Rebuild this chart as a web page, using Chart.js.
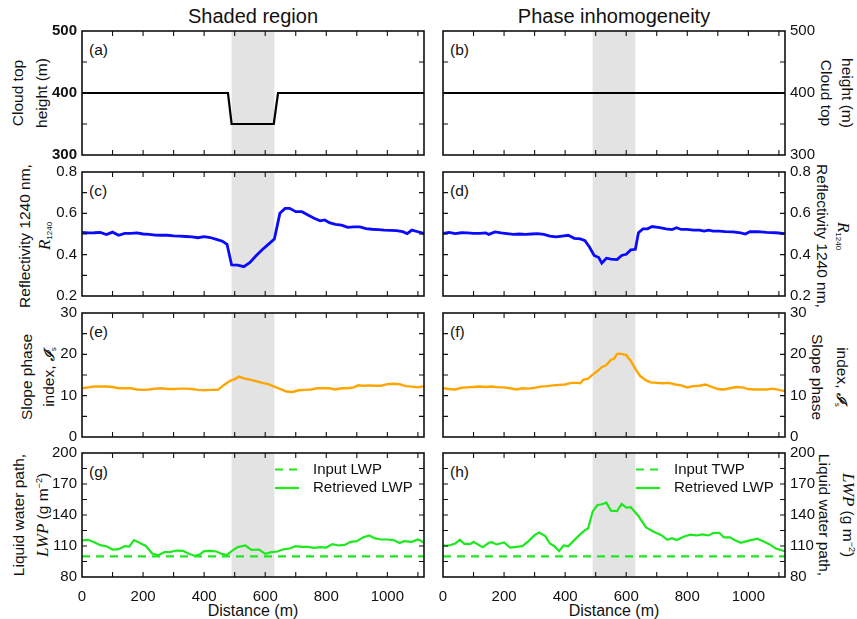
<!DOCTYPE html>
<html lang="en">
<head>
<meta charset="UTF-8">
<title>Cloud top height, reflectivity, phase index and LWP</title>
<script src="https://cdn.jsdelivr.net/npm/chart.js"></script>
<style>
  body { margin: 0; background: #fff; width: 857px; height: 619px; position: relative; overflow: hidden;
         font-family: "Liberation Sans", Arial, Helvetica, sans-serif; color: #111; }
  canvas { position: absolute; }
  .txt { position: absolute; white-space: nowrap; line-height: 1; }
  .ctr { transform: translate(-50%, -50%); }
  .lab { font-size: 15.5px; transform: translateY(-50%); }
  .yl  { font-size: 15.5px; transform: translate(-50%, -50%) rotate(-90deg); }
  .yr  { font-size: 15.5px; transform: translate(-50%, -50%) rotate(90deg); }
  .m   { font-family: "Liberation Serif", "Times New Roman", serif; font-style: italic; font-size: 17px; }
  .sc  { font-family: "DejaVu Serif", serif; font-style: italic; font-weight: bold; font-size: 14px; }
  sub  { font-size: 8px; vertical-align: -2px; }
  sup  { font-size: 9px; vertical-align: 6px; }
</style>
</head>
<body>

<div class="txt ctr" style="left:253px; top:16px; font-size:20px">Shaded region</div>
<div class="txt ctr" style="left:614px; top:16px; font-size:20px">Phase inhomogeneity</div>
<div class="txt ctr" style="left:253px; top:611px; font-size:16px">Distance (m)</div>
<div class="txt ctr" style="left:614px; top:611px; font-size:16px">Distance (m)</div>

<div class="txt lab" style="left:89px; top:50px">(a)</div>
<div class="txt lab" style="left:450px; top:50px">(b)</div>
<div class="txt lab" style="left:89px; top:191px">(c)</div>
<div class="txt lab" style="left:450px; top:191px">(d)</div>
<div class="txt lab" style="left:89px; top:332px">(e)</div>
<div class="txt lab" style="left:450px; top:332px">(f)</div>
<div class="txt lab" style="left:89px; top:472px">(g)</div>
<div class="txt lab" style="left:450px; top:472px">(h)</div>

<!-- left axis titles -->
<div class="txt yl" style="left:18px; top:93px">Cloud top</div>
<div class="txt yl" style="left:42px; top:93px">height (m)</div>
<div class="txt yl" style="left:25px; top:236px">Reflectivity 1240 nm,</div>
<div class="txt yl" style="left:45px; top:236px"><span class="m">R</span><sub>1240</sub></div>
<div class="txt yl" style="left:27px; top:377px">Slope phase</div>
<div class="txt yl" style="left:49px; top:377px">index, <span class="sc">ℐ</span><sub>s</sub></div>
<div class="txt yl" style="left:19px; top:515px">Liquid water path,</div>
<div class="txt yl" style="left:42px; top:515px"><span class="m">LWP</span> (g m<sup>−2</sup>)</div>

<!-- right axis titles -->
<div class="txt yr" style="left:826px; top:93px">Cloud top</div>
<div class="txt yr" style="left:847px; top:93px">height (m)</div>
<div class="txt yr" style="left:822px; top:236px">Reflectivity 1240 nm,</div>
<div class="txt yr" style="left:843px; top:236px"><span class="m">R</span><sub>1240</sub></div>
<div class="txt yr" style="left:817px; top:377px">Slope phase</div>
<div class="txt yr" style="left:841px; top:377px">index, <span class="sc">ℐ</span><sub>s</sub></div>
<div class="txt yr" style="left:824px; top:515px">Liquid water path,</div>
<div class="txt yr" style="left:848px; top:515px"><span class="m">LWP</span> (g m<sup>−2</sup>)</div>

<script>
// along-track distance (m) and shaded interval
const xMax = 1120;
const shadeStart = 490, shadeEnd = 630;

// cloud top height (m)
const cthDistA = [0, 478, 490, 628, 642, 1120];
const cthA = [400, 400, 350, 350, 400, 400];
const cthDistB = [0, 1120];
const cthB = [400, 400];

// reflectivity at 1240 nm
const reflDistC = [0, 20, 40, 60, 80, 100, 120, 140, 160, 180, 200, 220, 240, 260, 280, 300, 320, 340, 360, 380, 400, 420, 440, 460,
  475, 490, 510, 530, 550, 570, 590, 610, 630,
  648, 665, 680, 700, 720, 740, 760, 780, 795, 810, 830, 850, 870, 890, 910, 930, 950, 970, 990, 1010, 1030, 1050, 1065, 1080, 1100, 1120];
const reflC = [0.508, 0.505, 0.506, 0.508, 0.497, 0.509, 0.494, 0.503, 0.503, 0.505, 0.500, 0.498, 0.495, 0.494, 0.494, 0.491, 0.490, 0.488, 0.486, 0.482, 0.487, 0.483, 0.474, 0.465,
  0.450, 0.350, 0.349, 0.342, 0.362, 0.395, 0.424, 0.450, 0.476,
  0.600, 0.624, 0.624, 0.608, 0.608, 0.592, 0.576, 0.564, 0.568, 0.555, 0.547, 0.543, 0.532, 0.534, 0.534, 0.526, 0.523, 0.521, 0.519, 0.518, 0.516, 0.511, 0.502, 0.519, 0.511, 0.502];

const reflDistD = [0, 20, 40, 60, 80, 100, 120, 140,
  150, 170, 190, 210, 230, 250, 270, 290, 310, 330, 350, 370, 390, 410, 430, 450,
  465, 480, 495, 510, 520, 535, 550, 570, 585, 600, 615, 630,
  640, 655, 670, 685, 710, 730, 750, 765, 780, 800, 820, 840, 855, 870, 885, 905, 925, 950, 975, 990, 1005, 1030, 1060, 1090, 1120];
const reflD = [0.503, 0.508, 0.502, 0.506, 0.505, 0.503, 0.503, 0.505,
  0.498, 0.510, 0.505, 0.502, 0.498, 0.500, 0.498, 0.500, 0.502, 0.498, 0.490, 0.486, 0.490, 0.494, 0.479, 0.476,
  0.468, 0.436, 0.396, 0.386, 0.359, 0.383, 0.378, 0.376, 0.396, 0.402, 0.423, 0.426,
  0.506, 0.525, 0.525, 0.536, 0.531, 0.525, 0.521, 0.530, 0.522, 0.522, 0.519, 0.519, 0.514, 0.519, 0.514, 0.514, 0.511, 0.510, 0.505, 0.500, 0.511, 0.511, 0.508, 0.506, 0.502];

// slope phase index
const spiDistE = [0, 20, 40, 60, 80, 100, 120, 140, 160, 180, 200, 220, 240, 260, 280, 300, 320, 340, 360, 380, 400, 420,
  445, 465, 485, 500, 515, 530, 550, 570, 590, 610, 630, 650, 670, 690, 710, 730, 750, 770, 790, 810, 830, 850, 870, 890,
  905, 920, 940, 960, 980, 1000, 1020, 1040, 1060, 1080, 1100, 1120];
const spiE = [11.8, 12.0, 12.2, 12.2, 12.2, 12.1, 11.8, 11.8, 11.8, 11.5, 11.4, 11.5, 11.7, 11.8, 11.6, 11.6, 11.7, 11.7, 11.6, 11.4, 11.3, 11.4,
  11.4, 12.6, 13.6, 14.0, 14.6, 14.2, 13.9, 13.5, 13.1, 12.8, 12.2, 11.6, 11.0, 10.9, 11.3, 11.4, 11.5, 11.8, 11.8, 11.8, 11.5, 11.8, 11.8, 12.0,
  12.5, 12.4, 12.5, 12.4, 12.4, 12.8, 12.9, 12.8, 12.3, 12.2, 12.0, 12.3];

const spiDistF = [0, 20, 40, 60, 80, 100, 120, 140, 160, 180, 200, 220, 240, 260, 280, 300, 320, 340, 360, 380, 400, 420, 440,
  450, 460, 475, 490, 505, 520, 535, 550, 560, 570, 585, 600, 615, 630, 645, 665, 680,
  700, 720, 740, 760, 780, 800, 820, 840, 860, 880, 900, 920, 940, 960, 980, 1000, 1020, 1040, 1060, 1080, 1100, 1120];
const spiF = [11.8, 11.6, 11.5, 11.9, 12.0, 12.1, 12.2, 12.1, 12.2, 12.0, 12.0, 11.8, 11.5, 11.8, 11.7, 11.9, 12.2, 12.3, 12.5, 12.6, 12.7, 13.1, 13.1,
  13.0, 13.9, 14.1, 15.1, 15.9, 16.9, 17.4, 18.7, 18.9, 20.1, 20.1, 19.8, 18.4, 16.5, 14.8, 13.7, 13.2,
  13.1, 13.0, 13.1, 12.7, 12.5, 12.0, 12.3, 12.4, 12.7, 12.1, 11.6, 11.5, 11.8, 12.1, 12.0, 11.6, 11.5, 11.5, 11.5, 11.7, 11.4, 11.1];

// liquid water path (g m-2)
const inputDist = [0, 1120];
const inputLWP = [100, 100];

const lwpDistG = [0, 20, 40, 60, 80, 100, 120, 140, 155, 170, 190, 210, 230, 250, 270, 290, 310, 330, 350, 370, 385, 400, 420, 440, 460, 475,
  490, 510, 535, 555, 580, 600, 620, 640, 660, 680, 700, 720, 740, 760, 780, 800, 820, 840, 860, 880, 900, 920, 940, 960, 980, 1000,
  1020, 1040, 1055, 1080, 1100, 1110, 1120];
const lwpG = [115.4, 116.0, 113.7, 110.8, 109.8, 106.6, 106.9, 109.8, 109.5, 115.7, 112.8, 109.8, 102.7, 101.1, 104.0, 104.3, 105.6, 105.3, 102.4, 100.4, 101.7, 105.0, 105.3, 104.7, 102.1, 101.4,
  105.0, 108.9, 110.5, 106.3, 106.6, 102.4, 104.0, 104.7, 106.9, 107.6, 109.8, 109.2, 109.2, 108.2, 108.9, 108.5, 111.8, 110.5, 111.1, 114.0, 114.7, 118.3, 120.2, 117.3, 116.3, 116.3,
  115.7, 112.8, 114.7, 114.0, 116.3, 115.0, 113.1];

const lwpDistH = [0, 20, 40, 55, 70, 90, 100, 120, 130, 150, 160, 175, 200, 220, 240, 260, 280, 300, 315, 335, 350, 365, 380, 395, 410, 430,
  450, 465, 475, 490, 505, 520, 535, 550, 570, 585, 600, 615, 640, 665, 690, 715, 735, 750, 765, 790, 810, 830, 850, 870,
  885, 905, 920, 940, 955, 975, 995, 1030, 1050, 1070, 1090, 1105, 1120];
const lwpH = [110.5, 110.5, 112.4, 116.0, 112.1, 112.1, 114.0, 110.5, 108.9, 113.1, 113.7, 111.5, 113.4, 108.5, 109.2, 109.8, 114.7, 120.5, 123.1, 119.6, 112.4, 109.8, 105.0, 110.5, 109.8, 115.7,
  121.5, 125.4, 127.0, 143.2, 149.4, 150.4, 152.0, 144.2, 143.8, 150.7, 147.1, 147.5, 139.0, 128.0, 123.8, 120.5, 116.0, 117.6, 115.7, 119.2, 120.9, 120.2, 121.2, 120.2,
  122.5, 122.8, 118.3, 118.3, 115.7, 113.1, 114.7, 117.0, 114.4, 111.5, 107.6, 106.3, 104.7];

// layout of the 2 x 4 grid of plot boxes
const PAD = 10, YW = 60, XH = 30, PW = 342, PH = 124;
const colLeft = [82, 443];
const rowTop = [31, 172, 313, 453];
const FONT = '"Liberation Sans", Arial, Helvetica, sans-serif';
const BLUE = '#0a0aff', ORANGE = '#ffa500', GREEN = '#1ee81e';

function series(dist, vals) {
  return dist.map((d, i) => ({ x: d, y: vals[i] }));
}
function line(dist, vals, color, width, extra) {
  return Object.assign({ data: series(dist, vals), borderColor: color, borderWidth: width,
    pointRadius: 0, tension: 0, fill: false }, extra || {});
}

// shading, inward ticks, frame and the in-plot legend
const boxPlugin = {
  id: 'box',
  beforeDatasetsDraw(chart) {
    const { ctx, chartArea: a, scales: { x } } = chart;
    const x0 = x.getPixelForValue(shadeStart), x1 = x.getPixelForValue(shadeEnd);
    ctx.save();
    ctx.fillStyle = '#e3e3e3';
    ctx.fillRect(x0, a.top, x1 - x0, a.height);
    ctx.restore();
  },
  afterDatasetsDraw(chart, args, o) {
    const { ctx, chartArea: a, scales: { x, y } } = chart;
    const T = 5;
    ctx.save();
    ctx.strokeStyle = '#111';
    ctx.lineWidth = 1.1;
    ctx.beginPath();
    const nx = Math.round((x.max - x.min) / o.xMinor);
    for (let i = 1; i <= nx; i++) {
      const px = x.getPixelForValue(x.min + i * o.xMinor);
      if (px >= a.right - 1) continue;
      ctx.moveTo(px, a.bottom); ctx.lineTo(px, a.bottom - T);
      ctx.moveTo(px, a.top); ctx.lineTo(px, a.top + T);
    }
    const ny = Math.round((y.max - y.min) / o.yMinor);
    for (let i = 1; i < ny; i++) {
      const py = y.getPixelForValue(y.min + i * o.yMinor);
      ctx.moveTo(a.left, py); ctx.lineTo(a.left + T, py);
      ctx.moveTo(a.right, py); ctx.lineTo(a.right - T, py);
    }
    ctx.stroke();
    ctx.lineWidth = 1.6;
    ctx.strokeRect(a.left, a.top, a.width, a.height);

    if (o.legend) {
      ctx.font = '15px ' + FONT;
      ctx.textBaseline = 'middle';
      chart.data.datasets.forEach((ds, i) => {
        const yy = a.top + 16.5 + i * 18.5;
        ctx.strokeStyle = ds.borderColor;
        ctx.lineWidth = ds.borderWidth;
        ctx.setLineDash(ds.borderDash || []);
        ctx.beginPath();
        ctx.moveTo(a.left + 193, yy);
        ctx.lineTo(a.left + 217, yy);
        ctx.stroke();
        ctx.setLineDash([]);
        ctx.fillStyle = '#111';
        ctx.fillText(ds.label, a.left + 231, yy);
      });
    }
    ctx.restore();
  }
};

const panels = [
  { col: 0, row: 0, y: [300, 500, 100, 50], bold: true,
    sets: [line(cthDistA, cthA, '#000', 2.2)] },
  { col: 1, row: 0, y: [300, 500, 100, 50],
    sets: [line(cthDistB, cthB, '#000', 2.2)] },
  { col: 0, row: 1, y: [0.2, 0.8, 0.2, 0.1],
    sets: [line(reflDistC, reflC, BLUE, 2.8)] },
  { col: 1, row: 1, y: [0.2, 0.8, 0.2, 0.1],
    sets: [line(reflDistD, reflD, BLUE, 2.8)] },
  { col: 0, row: 2, y: [0, 30, 10, 5],
    sets: [line(spiDistE, spiE, ORANGE, 2.4)] },
  { col: 1, row: 2, y: [0, 30, 10, 5],
    sets: [line(spiDistF, spiF, ORANGE, 2.4)] },
  { col: 0, row: 3, y: [80, 200, 30, 15], legend: true,
    sets: [line(inputDist, inputLWP, GREEN, 2.2, { label: 'Input LWP', borderDash: [8, 6] }),
           line(lwpDistG, lwpG, GREEN, 2.2, { label: 'Retrieved LWP' })] },
  { col: 1, row: 3, y: [80, 200, 30, 15], legend: true,
    sets: [line(inputDist, inputLWP, GREEN, 2.2, { label: 'Input TWP', borderDash: [8, 6] }),
           line(lwpDistH, lwpH, GREEN, 2.2, { label: 'Retrieved LWP' })] }
];

panels.forEach(p => {
  const canvas = document.createElement('canvas');
  canvas.width = PAD * 2 + YW + PW;
  canvas.height = PAD * 2 + PH + XH;
  document.body.appendChild(canvas);
  const showX = p.row === 3;
  const chart = new Chart(canvas, {
    type: 'line',
    data: { datasets: p.sets },
    options: {
      responsive: false,
      maintainAspectRatio: false,
      animation: false,
      layout: { padding: PAD },
      plugins: {
        legend: { display: false },
        tooltip: { enabled: false },
        box: { xMinor: 100, yMinor: p.y[3], legend: !!p.legend }
      },
      scales: {
        x: {
          type: 'linear', min: 0, max: xMax,
          grid: { display: false, drawTicks: false, tickLength: 0 }, border: { display: false },
          ticks: { display: showX, stepSize: 200, includeBounds: false, autoSkip: false, maxRotation: 0,
                   padding: 11, color: '#111', font: { family: FONT, size: 15 },
                   callback: v => String(v) },
          afterFit(s) { s.height = XH; s.paddingLeft = 0; s.paddingRight = 0; }
        },
        y: {
          position: p.col === 0 ? 'left' : 'right',
          min: p.y[0], max: p.y[1],
          grid: { display: false, drawTicks: false, tickLength: 0 }, border: { display: false },
          ticks: { stepSize: p.y[2], includeBounds: false, autoSkip: false, padding: 5, color: '#111',
                   font: { family: FONT, size: 15, weight: p.bold ? 'bold' : 'normal' } },
          afterFit(s) { s.width = YW; s.paddingTop = 0; s.paddingBottom = 0; }
        }
      }
    },
    plugins: [boxPlugin]
  });
  const a = chart.chartArea;
  canvas.style.left = (colLeft[p.col] - a.left) + 'px';
  canvas.style.top = (rowTop[p.row] - a.top) + 'px';
});
</script>
</body>
</html>
